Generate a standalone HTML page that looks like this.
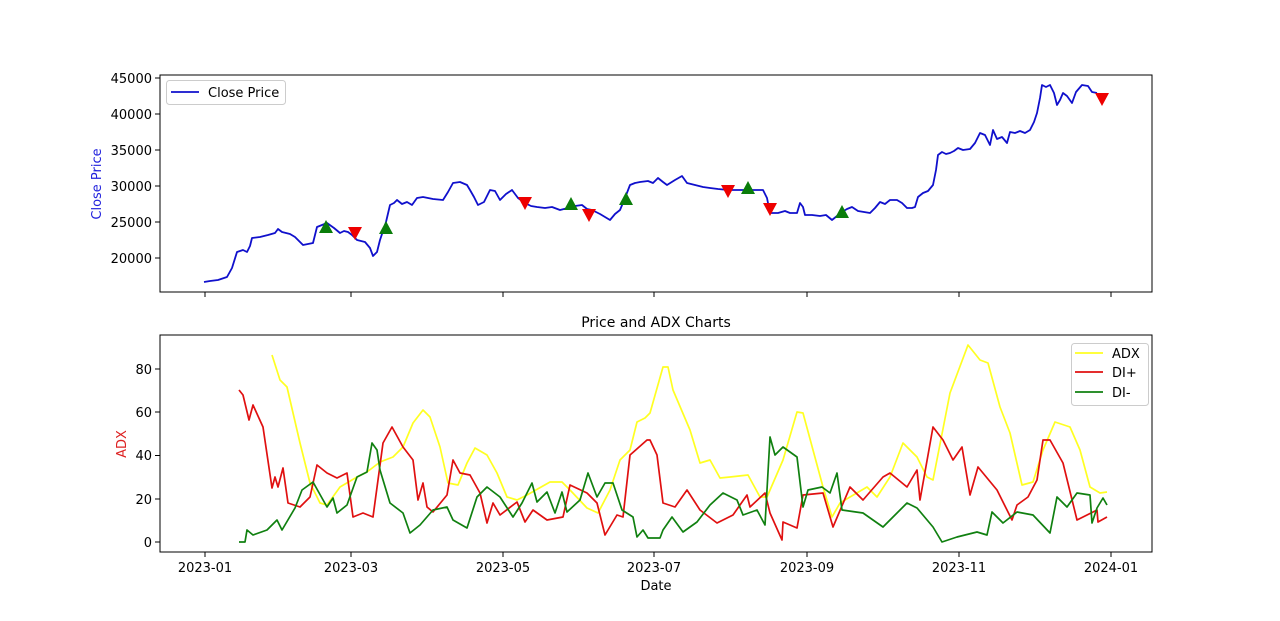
<!DOCTYPE html>
<html><head><meta charset="utf-8"><style>
html,body{margin:0;padding:0;background:#fff;}
svg{display:block;font-family:"DejaVu Sans","Liberation Sans",sans-serif;}
text{font-size:13px;fill:#000;}
</style></head><body>
<svg width="1280" height="621" viewBox="0 0 1280 621" xmlns="http://www.w3.org/2000/svg">
<rect width="1280" height="621" fill="#fff"/>
<!-- Top axes -->
<g stroke="#000" stroke-width="1">
<line x1="155" y1="78" x2="160" y2="78"/><line x1="155" y1="114" x2="160" y2="114"/><line x1="155" y1="150" x2="160" y2="150"/><line x1="155" y1="186" x2="160" y2="186"/><line x1="155" y1="222" x2="160" y2="222"/><line x1="155" y1="258" x2="160" y2="258"/>
<line x1="205" y1="292" x2="205" y2="297"/><line x1="351" y1="292" x2="351" y2="297"/><line x1="503" y1="292" x2="503" y2="297"/><line x1="654" y1="292" x2="654" y2="297"/><line x1="807" y1="292" x2="807" y2="297"/><line x1="959" y1="292" x2="959" y2="297"/><line x1="1111" y1="292" x2="1111" y2="297"/>
</g>
<g text-anchor="end">
<text x="152" y="83">45000</text><text x="152" y="119">40000</text><text x="152" y="155">35000</text><text x="152" y="191">30000</text><text x="152" y="227">25000</text><text x="152" y="263">20000</text>
</g>
<text transform="translate(101,184) rotate(-90)" text-anchor="middle" style="fill:#2222dd">Close Price</text>
<polyline fill="none" stroke="#1010cc" stroke-width="1.8" stroke-linejoin="round" points="204,282 210,281 218,280 227,277 232,268 237,252 243,250 247,252 250,246 252,238 260,237 268,235 275,233 278,229 282,232 290,234 295,237 299,241 303,245 308,244 313,243 317,227 322,225 327,223 334,228 340,233 344,231 348,232 352,235 357,240 365,242 370,248 373,256 377,252 380,240 386,222 390,205 394,203 397,200 402,204 407,202 412,205 417,198 423,197 433,199 443,200 448,192 453,183 460,182 467,185 470,190 474,197 478,205 484,202 490,190 495,191 500,200 506,194 512,190 518,198 525,203 531,206 537,207 545,208 552,207 560,210 568,208 575,206 582,205 587,209 592,210 600,214 610,220 615,214 620,210 625,198 630,185 635,183 640,182 648,181 653,183 658,178 663,182 667,185 675,180 682,176 687,183 695,185 703,187 710,188 718,189 728,190 740,190 752,190 763,190 767,198 770,213 778,213 785,211 790,213 797,213 800,203 803,207 805,215 812,215 820,216 826,215 832,220 837,216 842,212 847,209 852,207 858,211 864,212 870,213 875,208 880,202 885,204 890,200 897,200 902,203 907,208 912,208 915,207 918,197 923,193 928,191 933,185 936,170 938,155 942,152 946,154 950,153 954,151 958,148 963,150 970,149 975,143 980,133 985,135 990,145 993,130 997,139 1002,137 1007,143 1010,132 1015,133 1020,131 1025,133 1030,130 1034,122 1037,113 1040,98 1042,85 1046,87 1050,85 1054,93 1057,105 1060,100 1063,93 1067,96 1072,103 1076,92 1082,85 1088,86 1092,92 1097,93"/>
<g fill="#0a7d0a">
<polygon points="319,233 333,233 326,220"/><polygon points="379,234 393,234 386,221"/><polygon points="564,210 578,210 571,197"/><polygon points="619,205 633,205 626,192"/><polygon points="741,194 755,194 748,181"/><polygon points="835,218 849,218 842,205"/>
</g>
<g fill="#ee0000">
<polygon points="348,227 362,227 355,240"/><polygon points="518,197 532,197 525,210"/><polygon points="582,209 596,209 589,222"/><polygon points="721,185 735,185 728,198"/><polygon points="763,203 777,203 770,216"/><polygon points="1095,93 1109,93 1102,106"/>
</g>
<rect x="160" y="75" width="992" height="217" fill="none" stroke="#000" stroke-width="1"/>
<rect x="166.5" y="80.5" width="119" height="24" rx="3" fill="#fff" stroke="#ccc"/>
<line x1="171" y1="92" x2="199" y2="92" stroke="#1010cc" stroke-width="1.8"/>
<text x="208" y="97">Close Price</text>

<!-- Bottom axes -->
<text x="656" y="327" text-anchor="middle" style="font-size:14px">Price and ADX Charts</text>
<g stroke="#000" stroke-width="1">
<line x1="155" y1="369" x2="160" y2="369"/><line x1="155" y1="412" x2="160" y2="412"/><line x1="155" y1="455.5" x2="160" y2="455.5"/><line x1="155" y1="499" x2="160" y2="499"/><line x1="155" y1="542" x2="160" y2="542"/>
<line x1="205" y1="552" x2="205" y2="557"/><line x1="351" y1="552" x2="351" y2="557"/><line x1="503" y1="552" x2="503" y2="557"/><line x1="654" y1="552" x2="654" y2="557"/><line x1="807" y1="552" x2="807" y2="557"/><line x1="959" y1="552" x2="959" y2="557"/><line x1="1111" y1="552" x2="1111" y2="557"/>
</g>
<g text-anchor="end">
<text x="152" y="374">80</text><text x="152" y="417">60</text><text x="152" y="460">40</text><text x="152" y="504">20</text><text x="152" y="547">0</text>
</g>
<g text-anchor="middle">
<text x="205" y="572">2023-01</text><text x="351" y="572">2023-03</text><text x="503" y="572">2023-05</text><text x="654" y="572">2023-07</text><text x="807" y="572">2023-09</text><text x="959" y="572">2023-11</text><text x="1111" y="572">2024-01</text>
</g>
<text x="656" y="590" text-anchor="middle">Date</text>
<text transform="translate(126,444) rotate(-90)" text-anchor="middle" style="fill:#dd2222">ADX</text>
<g fill="none" stroke-width="1.7" stroke-linejoin="round">
<polyline stroke="#ffff22" points="272,355 280,380 287,387 300,443 310,483 320,503 327,505 340,487 357,477 367,472 380,462 393,457 403,447 413,423 423,410 430,417 440,447 448,483 458,485 467,463 475,448 487,455 497,473 507,497 517,500 527,495 550,482 562,482 570,490 587,508 598,513 610,490 620,460 630,450 637,422 645,418 650,413 663,367 668,367 673,390 690,430 700,463 710,460 720,478 730,477 748,475 760,497 767,497 783,460 797,412 803,413 813,450 823,487 832,517 840,503 850,497 867,487 877,497 890,477 903,443 917,457 927,477 933,480 950,393 968,345 980,360 988,363 1000,407 1010,433 1022,485 1033,482 1043,450 1055,422 1070,427 1080,450 1090,487 1100,493 1107,492"/>
<polyline stroke="#e01010" points="239,390 243,395 249,420 253,405 263,427 272,488 275,477 278,487 283,468 288,503 300,507 310,497 317,465 327,473 337,478 347,473 353,517 363,513 373,517 383,443 392,427 403,447 413,460 418,500 423,483 427,507 433,512 447,495 453,460 460,473 470,475 480,493 487,523 493,503 500,515 517,502 525,522 533,510 547,520 563,517 570,485 587,493 597,503 605,535 617,515 623,517 630,455 647,440 650,440 657,455 663,503 675,507 687,490 700,510 717,523 733,515 747,495 750,507 765,493 770,513 782,540 783,522 797,528 803,495 823,493 833,527 850,487 863,500 883,477 890,473 907,487 917,470 920,500 933,427 943,440 953,460 962,447 970,495 978,467 997,490 1012,520 1017,505 1028,497 1037,480 1043,440 1050,440 1063,463 1077,520 1097,510 1098,522 1107,517"/>
<polyline stroke="#108010" points="239,542 245,542 247,530 253,535 267,530 277,520 282,530 295,508 302,490 313,482 327,507 333,498 337,513 347,505 357,477 367,472 372,443 377,450 380,470 390,503 403,513 410,533 420,525 433,510 447,507 453,520 467,528 477,497 487,487 500,497 513,517 522,503 532,483 537,502 547,492 555,513 562,492 567,512 580,500 588,473 597,497 605,483 613,483 622,510 633,517 637,537 643,530 648,538 660,538 663,530 672,517 683,532 697,522 710,505 723,493 737,500 743,515 757,510 765,525 770,437 775,455 783,447 797,457 803,507 808,490 822,487 830,493 837,473 842,510 863,513 883,527 907,503 917,508 933,527 942,542 957,537 977,532 987,535 992,512 1003,523 1017,512 1033,515 1050,533 1057,497 1067,507 1077,493 1090,495 1092,523 1097,508 1103,498 1107,505"/>
</g>
<rect x="160" y="335" width="992" height="217" fill="none" stroke="#000" stroke-width="1"/>
<rect x="1071.5" y="343.5" width="77" height="62" rx="3" fill="#fff" stroke="#ccc"/>
<line x1="1075" y1="353" x2="1103" y2="353" stroke="#ffff22" stroke-width="1.8"/>
<line x1="1075" y1="372" x2="1103" y2="372" stroke="#e01010" stroke-width="1.8"/>
<line x1="1075" y1="392" x2="1103" y2="392" stroke="#108010" stroke-width="1.8"/>
<text x="1112" y="358">ADX</text><text x="1112" y="377">DI+</text><text x="1112" y="397">DI-</text>
</svg>
</body></html>
